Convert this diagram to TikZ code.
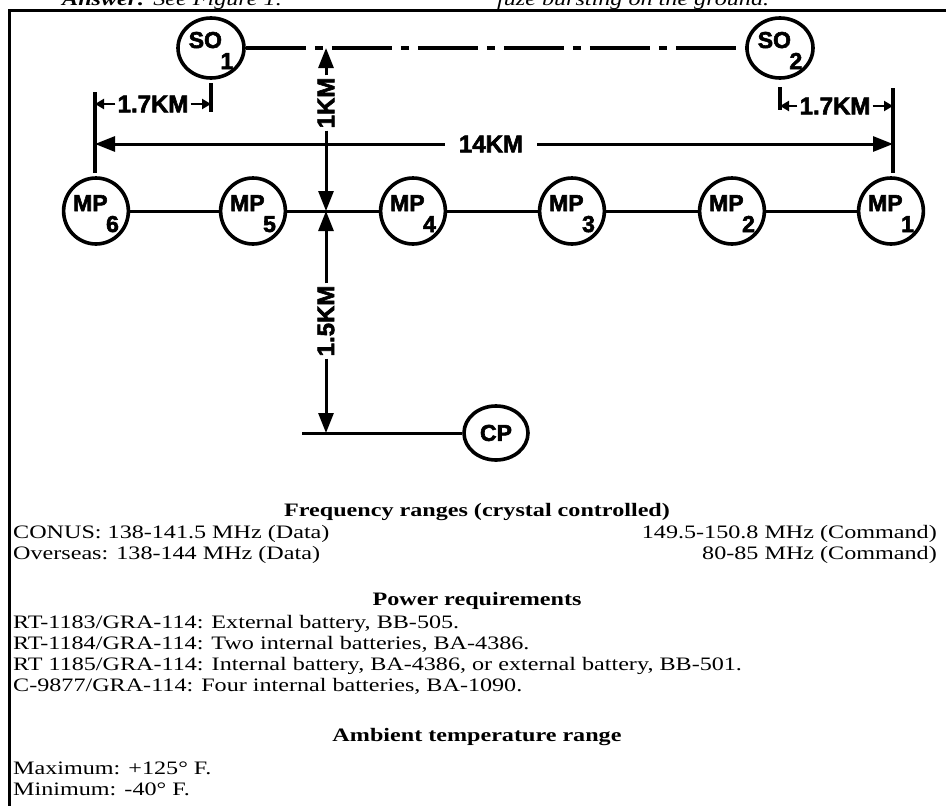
\documentclass[tikz,border=0pt]{standalone}
\usepackage{fontspec}
\setmainfont{Liberation Serif}[FakeStretch=1.27]
\newfontfamily\dgfont[BoldFeatures={FakeBold=2.5}]{Liberation Sans}
\usetikzlibrary{arrows.meta, positioning, shapes.geometric}

\tikzset{
  station/.style={ellipse, draw, line width=3.6pt, inner sep=0pt, minimum width=64pt, minimum height=66pt,
    font=\dgfont\bfseries\fontsize{23}{23}\selectfont, text height=17pt, text depth=17pt},
  link/.style={line width=3pt},
  soline/.style={line width=4pt, dash pattern=on 60pt off 9pt on 8pt off 9pt},
  bar/.style={line width=4pt},
  dimline/.style={line width=3pt, -{Triangle[length=20pt, width=15pt]}},
  smalldim/.style={line width=2.5pt, -{Triangle[length=9pt, width=10pt]}},
  dimlabel/.style={font=\dgfont\bfseries\fontsize{24}{24}\selectfont, fill=white, inner sep=2pt},
  bodytext/.style={font=\fontsize{19}{21}\selectfont, anchor=base west, inner sep=0pt},
  rbodytext/.style={font=\fontsize{19}{21}\selectfont, anchor=base east, inner sep=0pt},
  headtext/.style={font=\bfseries\fontsize{19}{21}\selectfont, anchor=base, inner sep=0pt}
}
\newcommand\subnum[1]{\kern-1.5pt\smash{\raisebox{-21pt}{#1}}}

\begin{document}
\begin{tikzpicture}[x=1pt, y=-1pt]
  \useasboundingbox (0,0) rectangle (946,806);

  % Page text above the box
  \node[anchor=base west, inner sep=0pt, font=\itshape\fontsize{19}{21}\selectfont] (pagel) at (62,5) {\textbf{Answer:} See Figure 1.};
  \node[anchor=base west, inner sep=0pt, font=\itshape\fontsize{19}{21}\selectfont] (pager) at (497,5) {fuze bursting on the ground.};

  % Frame
  \draw[line width=3pt] (9,806) -- (9,10) -- (946,10);

  % Survey officers
  \node[station, minimum width=66pt, minimum height=60pt] (so1) at (211,48) {SO\subnum{1}};
  \node[station, minimum width=66pt, minimum height=60pt] (so2) at (780,48) {SO\subnum{2}};
  \draw[soline] (so1) -- (so2);

  % Met points
  \node[station] (mp6) at (96,211)  {MP\subnum{6}};
  \node[station] (mp5) at (253,211) {MP\subnum{5}};
  \node[station] (mp4) at (413,211) {MP\subnum{4}};
  \node[station] (mp3) at (572,211) {MP\subnum{3}};
  \node[station] (mp2) at (732,211) {MP\subnum{2}};
  \node[station] (mp1) at (891,211) {MP\subnum{1}};
  \foreach \a/\b in {mp6/mp5, mp5/mp4, mp4/mp3, mp3/mp2, mp2/mp1}
    \draw[link] (\a) -- (\b);

  % Command post
  \node[ellipse, draw, line width=3.6pt, inner sep=0pt, minimum width=64pt, minimum height=54pt,
    font=\dgfont\bfseries\fontsize{23}{23}\selectfont] (cp) at (496,433) {CP};
  \coordinate (cpl) at (302,433);
  \draw[link] (cpl) -- (cp);

  % End bars and ticks
  \coordinate (lbarA) at (95,92);
  \coordinate (lbarB) at (95,173);
  \coordinate (rbarA) at (893,88);
  \coordinate (rbarB) at (893,173);
  \draw[bar] (lbarA) -- (lbarB);
  \draw[bar] (rbarA) -- (rbarB);
  \coordinate (ltickA) at (211,83);
  \coordinate (ltickB) at (211,112);
  \coordinate (rtickA) at (780,87);
  \coordinate (rtickB) at (780,110);
  \draw[bar] (ltickA) -- (ltickB);
  \draw[bar] (rtickA) -- (rtickB);

  % 1.7KM offsets
  \node[dimlabel, fill=none] (l17a) at (153,104) {1.7KM};
  \draw[smalldim] (l17a) -- (l17a -| lbarA);
  \draw[smalldim] (l17a) -- (l17a -| ltickA);
  \node[dimlabel, fill=none] (l17b) at (835,106) {1.7KM};
  \draw[smalldim] (l17b) -- (l17b -| rtickA);
  \draw[smalldim] (l17b) -- (l17b -| rbarA);

  % 14KM base
  \node[dimlabel, inner xsep=14pt] (k14) at (491,144) {14KM};
  \draw[dimline] (k14) -- (k14 -| lbarA);
  \draw[dimline] (k14) -- (k14 -| rbarA);

  % 1KM and 1.5KM
  \node[dimlabel, rotate=90] (k1) at (326,103) {1KM};
  \draw[dimline] (k1) -- (k1 |- so1);
  \draw[dimline] (k1) -- (k1 |- mp5);
  \node[dimlabel, rotate=90] (k15) at (326,321) {1.5KM};
  \draw[dimline] (k15) -- (k15 |- mp5);
  \draw[dimline] (k15) -- (k15 |- cp);

  % Frequency ranges
  \node[headtext] (fhead) at (477,516) {Frequency ranges (crystal controlled)};
  \node[bodytext] (conus) at (13,538) {CONUS: 138-141.5 MHz (Data)};
  \node[rbodytext] (conusc) at (937,538) {149.5-150.8 MHz (Command)};
  \node[bodytext] (overs) at (13,559) {Overseas: 138-144 MHz (Data)};
  \node[rbodytext] (oversc) at (937,559) {80-85 MHz (Command)};

  % Power requirements
  \node[headtext] (phead) at (477,605) {Power requirements};
  \node[bodytext] (rt83) at (13,628) {RT-1183/GRA-114: External battery, BB-505.};
  \node[bodytext] (rt84) at (13,649) {RT-1184/GRA-114: Two internal batteries, BA-4386.};
  \node[bodytext] (rt85) at (13,670) {RT 1185/GRA-114: Internal battery, BA-4386, or external battery, BB-501.};
  \node[bodytext] (c9877) at (13,691) {C-9877/GRA-114: Four internal batteries, BA-1090.};

  % Ambient temperature
  \node[headtext] (thead) at (477,741) {Ambient temperature range};
  \node[bodytext] (tmax) at (13,774) {Maximum: +125\textdegree{} F.};
  \node[bodytext] (tmin) at (13,795) {Minimum: -40\textdegree{} F.};
\end{tikzpicture}
\end{document}
